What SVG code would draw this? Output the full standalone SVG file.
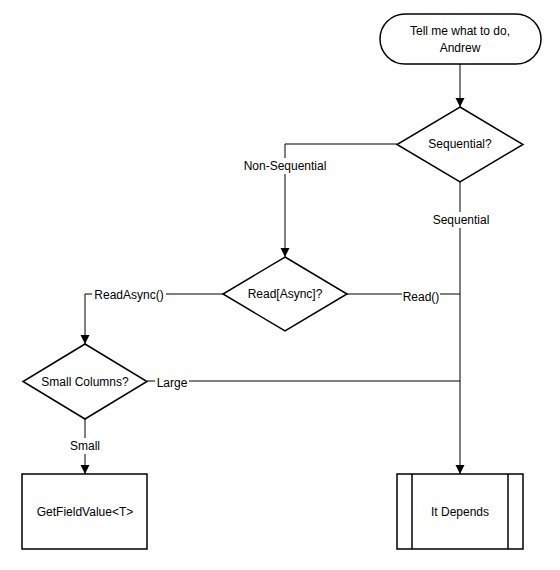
<svg xmlns="http://www.w3.org/2000/svg" width="560" height="570" viewBox="0 0 560 570">
<style>
.s{fill:#fff;stroke:#000;stroke-width:1.5}
.c{fill:none;stroke:#000;stroke-width:1}
.t{font-family:"Liberation Sans",Arial,sans-serif;font-size:12px;fill:#000;text-anchor:middle;dominant-baseline:central}
.lb{fill:#fff;stroke:none}
</style>
<defs>
<marker id="a" markerWidth="10" markerHeight="10" refX="9" refY="5" orient="auto" markerUnits="userSpaceOnUse">
<path d="M0,0.5 L9,5 L0,9.5 Z" fill="#000"/>
</marker>
</defs>
<rect width="560" height="570" fill="#fff"/>
<g id="connectors">
<path class="c" d="M460,64 V107" marker-end="url(#a)"/>
<path class="c" d="M397,144 H285 V257" marker-end="url(#a)"/>
<path class="c" d="M460,182 V474" marker-end="url(#a)"/>
<path class="c" d="M347,294 H460"/>
<path class="c" d="M223,294 H85 V344" marker-end="url(#a)"/>
<path class="c" d="M147,381 H460"/>
<path class="c" d="M85,419 V474" marker-end="url(#a)"/>
<rect class="lb" x="238" y="158" width="94" height="16"/>
<text class="t" x="285" y="166">Non-Sequential</text>
<rect class="lb" x="432" y="212" width="58" height="16"/>
<text class="t" x="461" y="220">Sequential</text>
<rect class="lb" x="402" y="289" width="38" height="16"/>
<text class="t" x="421" y="297">Read()</text>
<rect class="lb" x="92" y="287" width="74" height="16"/>
<text class="t" x="129" y="295">ReadAsync()</text>
<rect class="lb" x="155" y="375" width="34" height="16"/>
<text class="t" x="172" y="383">Large</text>
<rect class="lb" x="67" y="438" width="36" height="16"/>
<text class="t" x="85" y="446">Small</text>
</g>
<g id="start">
<rect class="s" x="380" y="14" width="161" height="50" rx="25" ry="25"/>
<text class="t" x="460" y="31">Tell me what to do,</text>
<text class="t" x="460" y="48">Andrew</text>
</g>
<g id="sequential">
<polygon class="s" points="460,107 523,144.5 460,182 397,144.5"/>
<text class="t" x="460" y="144">Sequential?</text>
</g>
<g id="readasync">
<polygon class="s" points="285,257 347,294 285,331 223,294"/>
<text class="t" x="285" y="294">Read[Async]?</text>
</g>
<g id="smallcolumns">
<polygon class="s" points="85,344 147,381.5 85,419 23,381.5"/>
<text class="t" x="85" y="382">Small Columns?</text>
</g>
<g id="getfieldvalue">
<rect class="s" x="22" y="474" width="125" height="75"/>
<text class="t" x="85" y="512">GetFieldValue&lt;T&gt;</text>
</g>
<g id="itdepends">
<rect class="s" x="397" y="474" width="126" height="75"/>
<line class="s" x1="412" y1="474" x2="412" y2="549"/>
<line class="s" x1="508" y1="474" x2="508" y2="549"/>
<text class="t" x="460" y="512">It Depends</text>
</g>
</svg>
